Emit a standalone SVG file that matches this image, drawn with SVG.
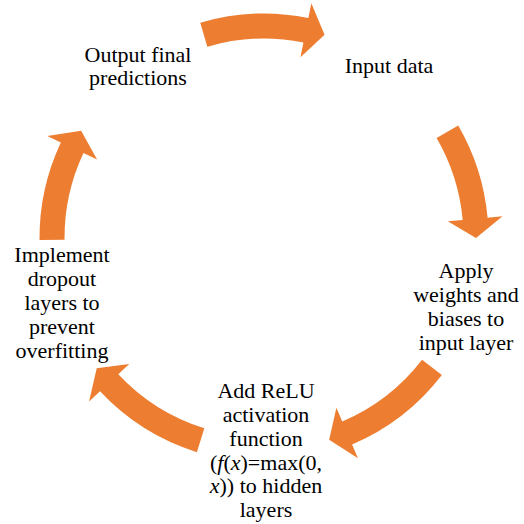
<svg xmlns="http://www.w3.org/2000/svg" width="524" height="524" viewBox="0 0 524 524">
  <style>
    .arc { fill: #ED7D31; stroke: none; }
    .lbl { font-family: "Liberation Serif", "Times New Roman", serif; font-size: 22px; fill: #000; text-anchor: middle; }
  </style>

  <!-- five block arcs on one circle (centre 264,238, r 212), each pointing clockwise -->
  <g id="connectors">
    <path class="arc" d="M200.24,22.75 A224.5,224.5 0 0 1 308.38,17.93 L311.34,3.23 L324.57,34.84 L300.47,57.14 L303.43,42.44 A199.5,199.5 0 0 0 207.34,46.72 Z"/>
    <path class="arc" d="M458.23,125.41 A224.5,224.5 0 0 1 487.58,217.65 L502.51,216.29 L476,238 L447.74,221.28 L462.68,219.92 A199.5,199.5 0 0 0 436.6,137.95 Z"/>
    <path class="arc" d="M441.87,374.98 A224.5,224.5 0 0 1 352.08,444.5 L357.96,458.3 L329.16,439.74 L336.39,407.71 L342.27,421.5 A199.5,199.5 0 0 0 422.06,359.72 Z"/>
    <path class="arc" d="M196.87,452.23 A224.5,224.5 0 0 1 100.03,391.35 L89.08,401.59 L96.72,368.23 L129.25,364.02 L118.29,374.27 A199.5,199.5 0 0 0 204.34,428.37 Z"/>
    <path class="arc" d="M39.51,239.96 A224.5,224.5 0 0 1 60.87,142.41 L47.29,136.03 L81.15,130.72 L97.06,159.44 L83.49,153.06 A199.5,199.5 0 0 0 64.51,239.74 Z"/>
  </g>

  <g id="input-data">
    <text class="lbl" x="389" y="73">Input data</text>
  </g>

  <g id="apply-weights">
    <text class="lbl" x="466" y="278">Apply</text>
    <text class="lbl" x="466" y="302">weights and</text>
    <text class="lbl" x="466" y="326">biases to</text>
    <text class="lbl" x="466" y="350">input layer</text>
  </g>

  <g id="add-relu">
    <text class="lbl" x="266" y="398">Add ReLU</text>
    <text class="lbl" x="266" y="422">activation</text>
    <text class="lbl" x="266" y="446">function</text>
    <text class="lbl" x="266" y="470">(<tspan font-style="italic">f</tspan>(<tspan font-style="italic">x</tspan>)=max(0,</text>
    <text class="lbl" x="266" y="493"><tspan font-style="italic">x</tspan>)) to hidden</text>
    <text class="lbl" x="266" y="517">layers</text>
  </g>

  <g id="implement-dropout">
    <text class="lbl" x="62" y="262">Implement</text>
    <text class="lbl" x="62" y="286">dropout</text>
    <text class="lbl" x="62" y="310">layers to</text>
    <text class="lbl" x="62" y="334">prevent</text>
    <text class="lbl" x="62" y="358">overfitting</text>
  </g>

  <g id="output-predictions">
    <text class="lbl" x="138" y="62">Output final</text>
    <text class="lbl" x="138" y="85">predictions</text>
  </g>
</svg>
